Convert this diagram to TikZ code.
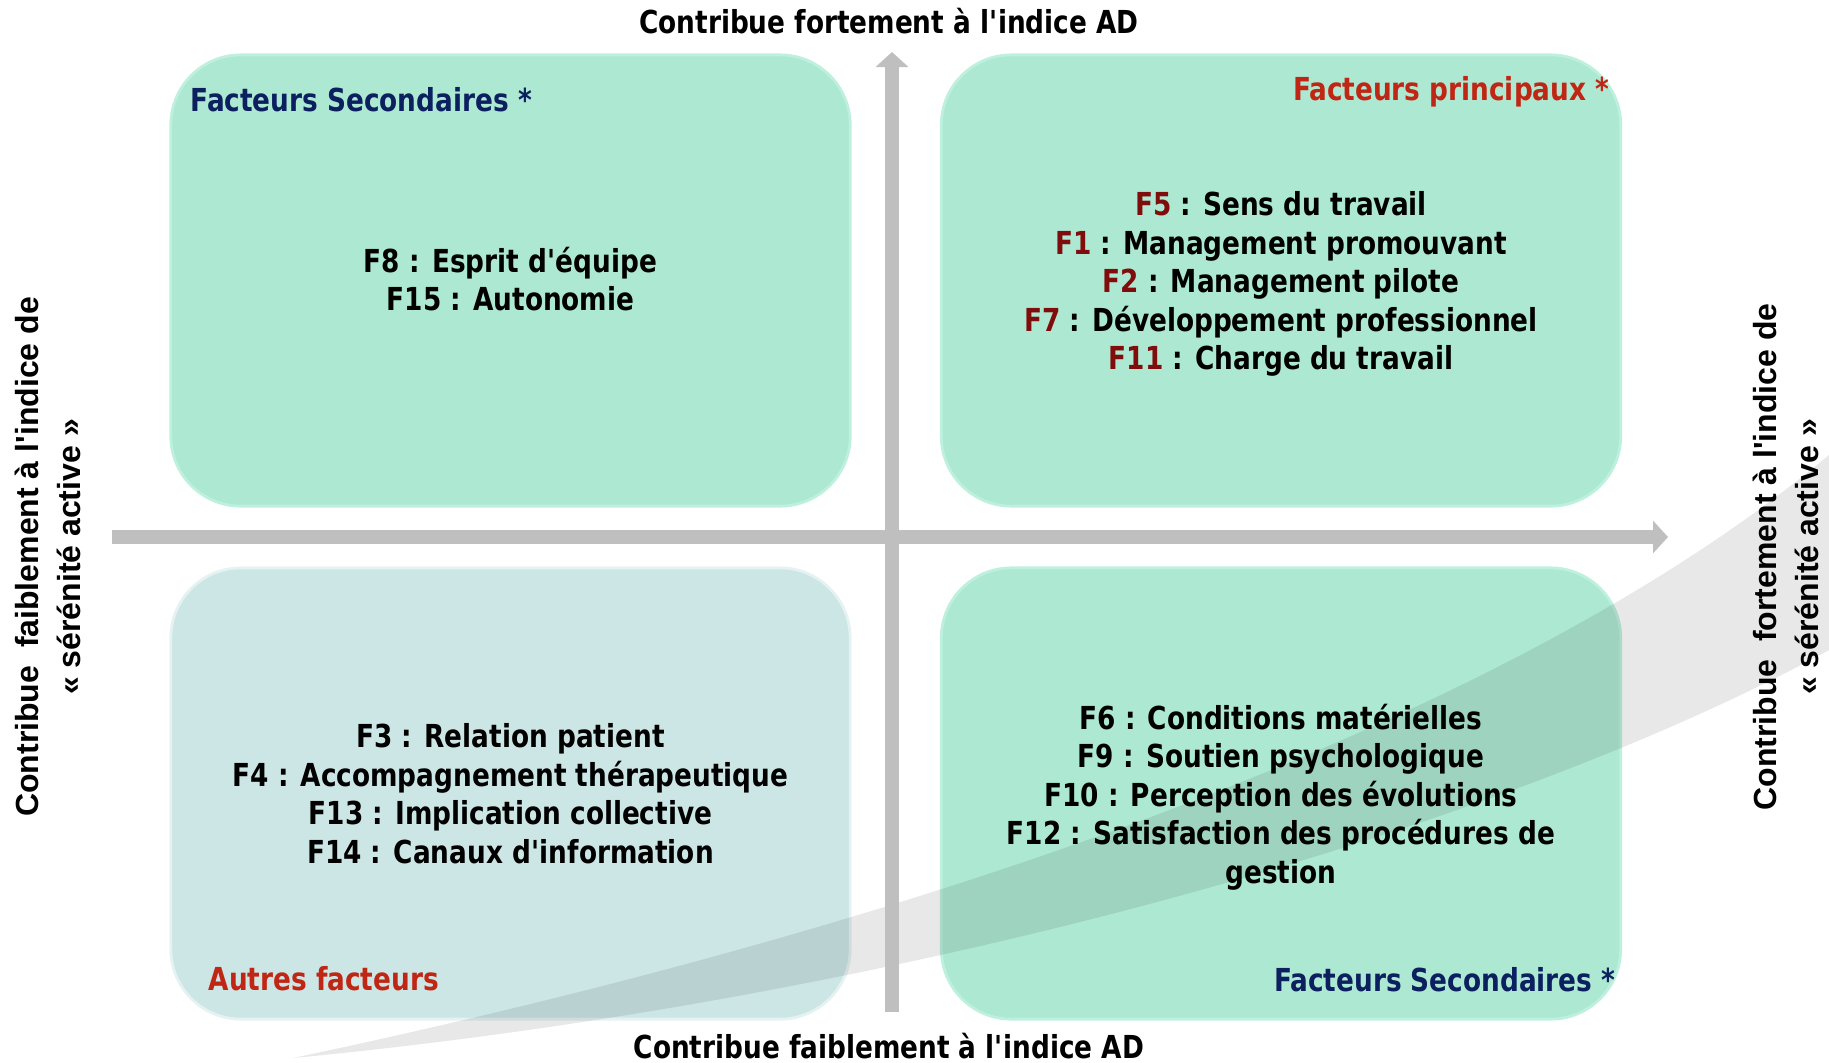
\documentclass[tikz,border=0pt]{standalone}
\usepackage{fontspec}
\setmainfont{DejaVu Sans Condensed}[FakeStretch=0.925]
\newfontfamily\arialfont{Liberation Sans}
\usetikzlibrary{positioning}
\usetikzlibrary{arrows.meta}
\tikzset{box/.style = {rounded corners=0.7cm, minimum width=6.79cm, minimum height=4.51cm,
                       fill=mgreen, draw=mrim, line width=0.8pt}}
\tikzset{txt/.style = {font=\bfseries\fontsize{9}{10.95}\selectfont, align=center, inner sep=0}}
\tikzset{ttl/.style = {font=\bfseries\fontsize{9}{11}\selectfont, inner sep=0}}
\tikzset{axe/.style = {mgrey, line width=0.14cm, -{Triangle[length=0.15cm, width=0.32cm]}}}
\tikzset{side/.style = {font=\arialfont\bfseries\fontsize{9.1}{12}\selectfont, align=center, rotate=90}}
\definecolor{mgreen}{RGB}{173,232,210}
\definecolor{mteal}{RGB}{204,230,230}
\definecolor{mrim}{RGB}{190,240,222}
\definecolor{mgrey}{RGB}{191,191,191}
\definecolor{mnavy}{RGB}{12,32,96}
\definecolor{mred}{RGB}{192,38,20}
\definecolor{mdark}{RGB}{128,12,12}
\newcommand{\apos}{\textquotesingle}

\begin{document}
\begin{tikzpicture}[x=0.01cm, y=-0.01cm]
          \useasboundingbox (0, 0) rectangle (1829, 1063);
          % quadrants
          \node [box] (hautg) at (510.5, 280.5) {};
          \node [box] (hautd) at (1281, 280.5) {};
          \node [box, fill=mteal, draw=white!50!mteal] (basg) at (510.5, 793.5) {};
          \node [box] (basd) at (1281, 793.5) {};

          % swoosh
          \fill [black, fill opacity=0.09] (293, 1058) .. controls (900, 930) and (1500, 730) .. (1829, 455)
                -- (1829, 650) .. controls (1500, 830) and (900, 1000) .. (293, 1058);

          % axes
          \coordinate (xg) at (112, 537);
          \coordinate (xd) at (1668, 537);
          \coordinate (yb) at (892, 1012);
          \coordinate (yh) at (892, 52);
          \draw [axe] (xg) -- (xd);
          \draw [axe] (yb) -- (yh);

          \node [txt] (ad1) at (889, 21) {Contribue fortement à l\apos indice AD};
          \node [txt] (ad2) at (889, 1046) {Contribue faiblement à l\apos indice AD};
          \node [side] (sa1) at (48, 557) {Contribue\ \ faiblement à l'indice de\\« sérénité active »};
          \node [side] (sa2) at (1786, 557) {Contribue\ \ fortement à l'indice de\\« sérénité active »};

          \node [ttl, anchor=west, mnavy] (t1) at (190, 100) {Facteurs Secondaires *};
          \node [ttl, anchor=east, mred] (t2) at (1610, 92) {Facteurs principaux *};
          \node [ttl, anchor=west, mred] (t3) at (208, 979) {Autres facteurs};
          \node [ttl, anchor=east, mnavy] (t4) at (1616, 980) {Facteurs Secondaires *};

          \node [txt] (f1) at (510.5, 279) {F8 : Esprit d\apos équipe\\F15 : Autonomie};
          \node [txt] (f2) at (1281, 284) {\textcolor{mdark}{F5} : Sens du travail\\
                                      \textcolor{mdark}{F1} : Management promouvant\\
                                      \textcolor{mdark}{F2} : Management pilote\\
                                      \textcolor{mdark}{F7} : Développement professionnel\\
                                      \textcolor{mdark}{F11} : Charge du travail};
          \node [txt] (f3) at (510.5, 793.5) {F3 : Relation patient\\F4 : Accompagnement thérapeutique\\
                                      F13 : Implication collective\\F14 : Canaux d\apos information};
          \node [txt] (f4) at (1281, 797) {F6 : Conditions matérielles\\F9 : Soutien psychologique\\
                                      F10 : Perception des évolutions\\
                                      F12 : Satisfaction des procédures de\\gestion};
        \end{tikzpicture}
\end{document}
